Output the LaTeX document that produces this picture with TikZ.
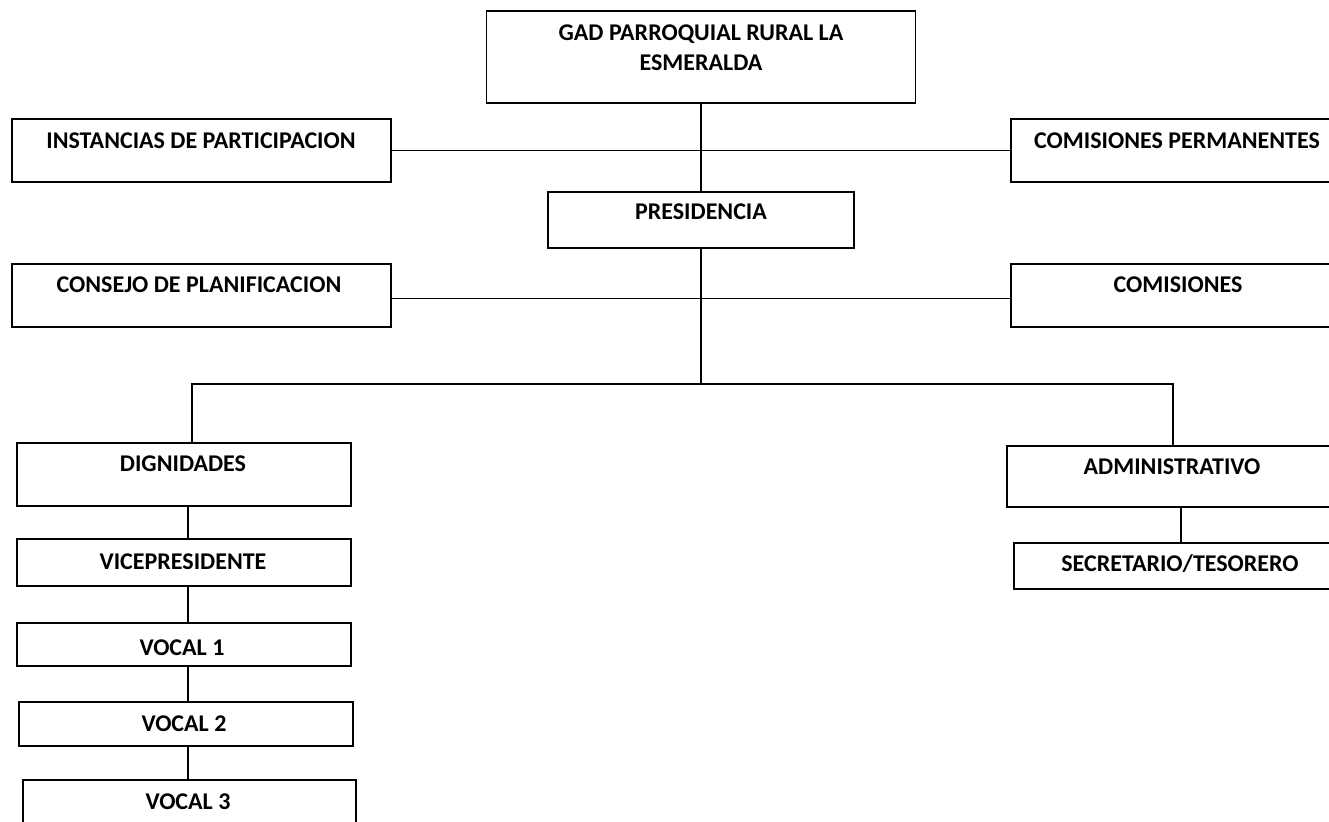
\documentclass[tikz,border=0pt]{standalone}
\usepackage{fontspec}
\setmainfont{Carlito}
\begin{document}
\begin{tikzpicture}[x=1pt,y=-1pt,
  box/.style={draw=black,line width=1.6pt,fill=white,inner sep=0pt},
  txt/.style={font=\fontsize{24}{30}\selectfont\bfseries,inner sep=0pt,align=center,text=black},
  conn/.style={draw=black,line width=1.6pt}]
\useasboundingbox (0,0) rectangle (1329,821);
\fill[white] (0,0) rectangle (1329,821);
\clip (0,0) rectangle (1329,821);
% boxes
\node[box,minimum width=429pt,minimum height=92pt] (gad) at (701,57) {};
\node[box,minimum width=306pt,minimum height=56pt] (pres) at (701,220) {};
\node[box,minimum width=379pt,minimum height=63pt] (inst) at (201.5,150.5) {};
\node[box,minimum width=334pt,minimum height=63pt] (comper) at (1178,150.5) {};
\node[box,minimum width=379pt,minimum height=63pt] (cons) at (201.5,295.5) {};
\node[box,minimum width=334pt,minimum height=63pt] (comis) at (1178,295.5) {};
\node[box,minimum width=334pt,minimum height=63pt] (dign) at (184,474.5) {};
\node[box,minimum width=334pt,minimum height=47pt] (vice) at (184,562.5) {};
\node[box,minimum width=334pt,minimum height=43pt] (vocA) at (184,644.5) {};
\node[box,minimum width=334pt,minimum height=44pt] (vocB) at (186,724) {};
\node[box,minimum width=333pt,minimum height=60pt] (vocC) at (189.5,810) {};
\node[box,minimum width=338pt,minimum height=61pt] (adm) at (1176,476.5) {};
\node[box,minimum width=331pt,minimum height=46pt] (sec) at (1179.5,566) {};
% texts
\node[txt] (tgad) at (701,48) {GAD PARROQUIAL RURAL LA\\ESMERALDA};
\node[txt] (tpres) at (701,212) {PRESIDENCIA};
\node[txt] (tinst) at (201,141) {INSTANCIAS DE PARTICIPACION};
\node[txt] (tcomper) at (1177,141) {COMISIONES PERMANENTES};
\node[txt] (tcons) at (199,285) {CONSEJO DE PLANIFICACION};
\node[txt] (tcomis) at (1178,285) {COMISIONES};
\node[txt] (tdign) at (183,464) {DIGNIDADES};
\node[txt] (tvice) at (183,562) {VICEPRESIDENTE};
\node[txt] (tvocA) at (182,648) {VOCAL 1};
\node[txt] (tvocB) at (184,724) {VOCAL 2};
\node[txt] (tvocC) at (188,802) {VOCAL 3};
\node[txt] (tadm) at (1172,467) {ADMINISTRATIVO};
\node[txt] (tsec) at (1180,564) {SECRETARIO/TESORERO};
% connectors
\coordinate (j) at (701,384);
\coordinate (jl) at (192,384);
\coordinate (jr) at (1173,384);
\coordinate (cl) at (188,0);
\coordinate (cr) at (1181,0);
\draw[conn] (gad.south) -- (pres.north);
\draw[conn] (inst.east) -- (comper.west);
\draw[conn] (pres.south) -- (j);
\draw[conn] ([yshift=-3pt]cons.east) -- ([yshift=-3pt]comis.west);
\draw[conn] (jl |- dign.north) -- (jl) -- (jr) -- (jr |- adm.north);
\draw[conn] (dign.south -| cl) -- (vice.north -| cl);
\draw[conn] (vice.south -| cl) -- (vocA.north -| cl);
\draw[conn] (vocA.south -| cl) -- (vocB.north -| cl);
\draw[conn] (vocB.south -| cl) -- (vocC.north -| cl);
\draw[conn] (adm.south -| cr) -- (sec.north -| cr);
\end{tikzpicture}
\end{document}
